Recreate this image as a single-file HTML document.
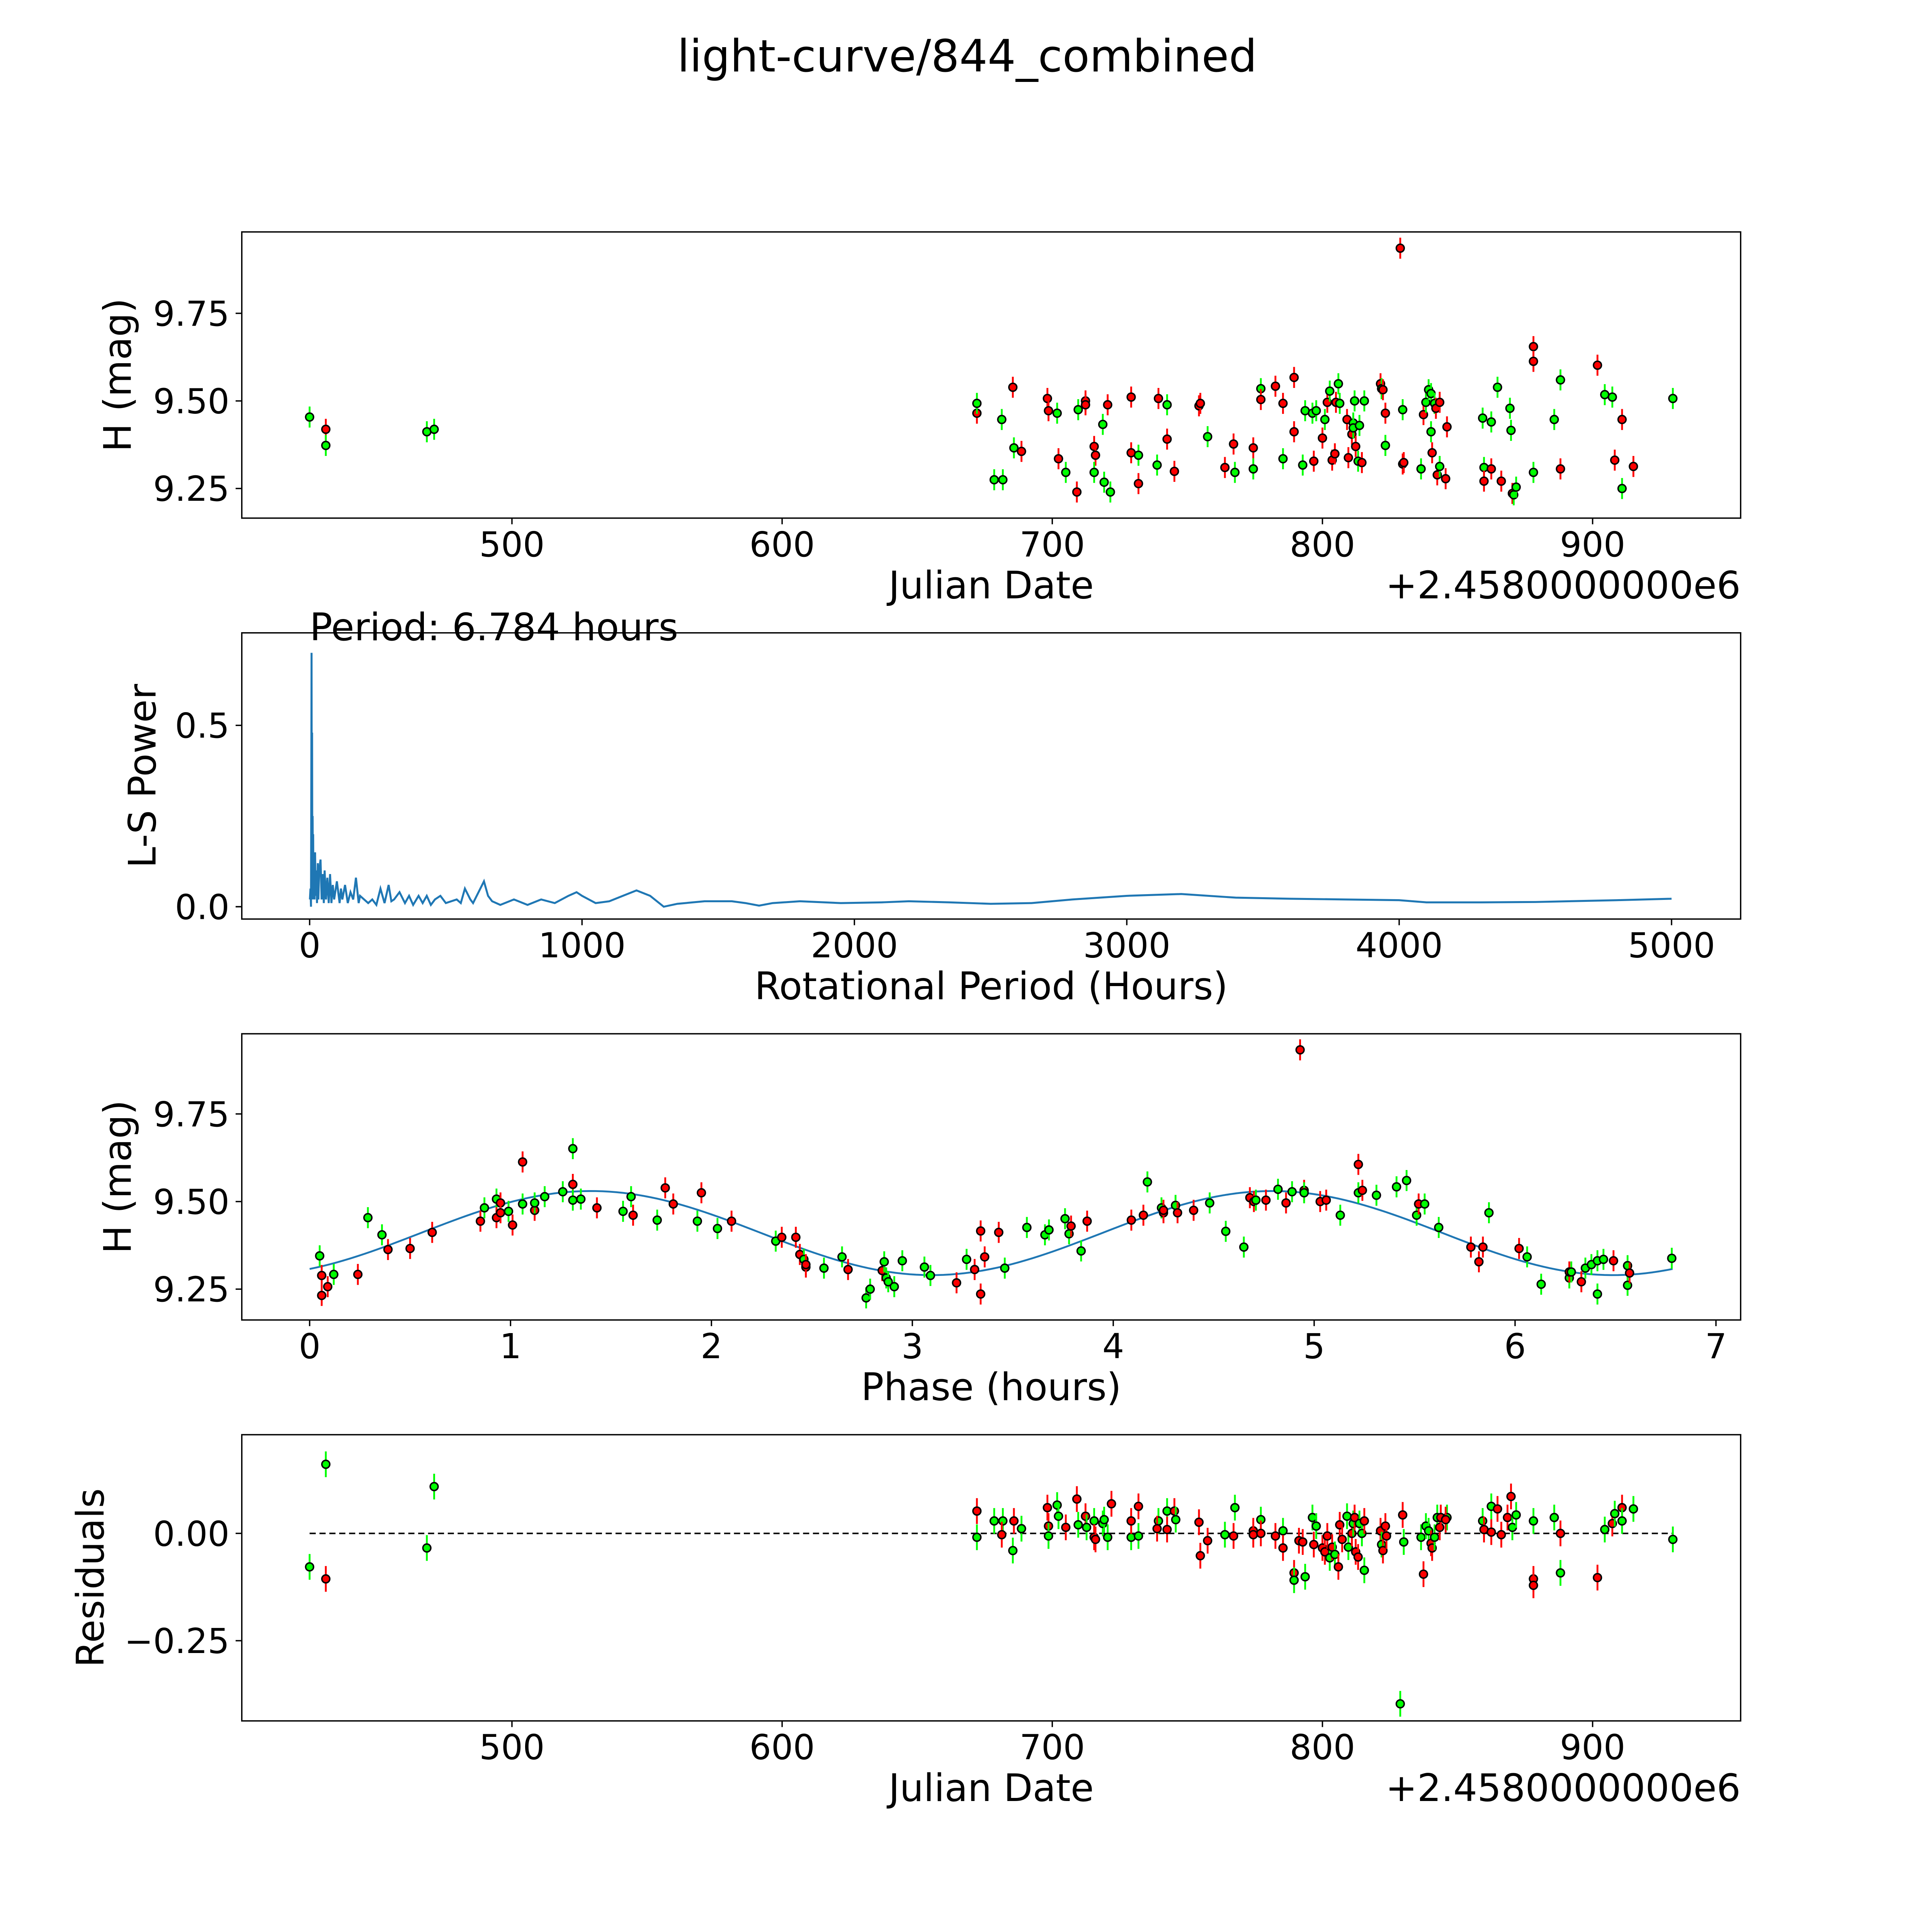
<!DOCTYPE html>
<html><head><meta charset="utf-8"><style>
html,body{margin:0;padding:0;background:#fff;overflow:hidden}
svg{display:block}
text{font-family:"DejaVu Sans","Liberation Sans",sans-serif;fill:#000}
</style></head><body>
<svg id="fig" width="5006" height="5006" viewBox="0 0 1568 1568" xmlns="http://www.w3.org/2000/svg">
<rect width="1568" height="1568" fill="#fff"/>
<text x="784" y="58" font-size="36" text-anchor="middle">light-curve/844_combined</text>
</svg>
<script>
// ---- data: time series (Julian date offset, H mag, color 'g'/'r') ----
const lcDates = [425.1,431.1,431.1,468.5,471.2,672.1,672.1,678.5,681.7,681.3,685.4,685.8,688.6,698.2,698.6,701.8,702.3,705.0,709.1,709.6,712.3,712.3,715.5,716.0,715.5,718.7,719.2,720.5,721.5,729.2,729.2,731.9,731.9,739.3,738.8,742.5,742.5,745.2,754.3,754.8,757.5,763.9,767.1,767.6,774.4,774.4,777.2,777.2,782.6,785.4,785.4,789.5,789.5,792.7,793.6,796.3,796.8,797.7,800.0,800.9,801.8,802.7,803.6,804.6,805.9,805.0,806.4,809.1,809.6,810.9,811.4,811.4,811.9,812.3,813.2,813.7,814.6,815.5,821.5,821.9,822.4,823.3,823.3,828.8,829.7,829.7,830.1,836.5,837.4,838.3,839.3,840.2,840.2,840.6,841.5,842.0,842.5,843.4,843.4,846.1,845.6,859.3,859.8,859.8,862.5,862.5,864.8,866.2,869.4,869.8,870.3,870.8,871.7,878.1,878.1,878.1,885.8,888.1,888.1,901.8,904.5,907.3,908.2,910.9,910.9,915.1,929.7];
const lcMags = [9.454,9.419,9.373,9.412,9.419,9.465,9.493,9.275,9.275,9.447,9.539,9.366,9.356,9.507,9.472,9.465,9.335,9.296,9.240,9.475,9.500,9.489,9.370,9.345,9.296,9.433,9.268,9.489,9.240,9.511,9.352,9.345,9.264,9.507,9.317,9.489,9.391,9.299,9.486,9.493,9.398,9.310,9.377,9.296,9.366,9.306,9.535,9.504,9.542,9.493,9.335,9.567,9.412,9.317,9.472,9.465,9.328,9.472,9.394,9.447,9.496,9.528,9.331,9.349,9.549,9.496,9.493,9.447,9.338,9.405,9.437,9.423,9.500,9.370,9.328,9.430,9.324,9.500,9.549,9.535,9.532,9.373,9.465,9.936,9.320,9.475,9.324,9.306,9.461,9.496,9.532,9.521,9.412,9.352,9.493,9.479,9.289,9.313,9.496,9.426,9.278,9.451,9.310,9.271,9.440,9.306,9.539,9.271,9.479,9.416,9.236,9.232,9.254,9.655,9.613,9.296,9.447,9.560,9.306,9.602,9.518,9.511,9.331,9.447,9.250,9.313,9.507];
const lcColors = "grggg rggggrgrrrgrgrgrrrrgggrgrrgrrggrrrrgrrgrggrrrgrrgggrgrgrgrrgrgrrrgggrggrgrgrgrrrgrgrggggrgrrgrrrggrgrgrggrggrrgggrrggrrgrgrgg".replace(/ /g,'').split('');
// ---- data: periodogram ----
const lsPeriod = [1,3,5,6,7,8,9,10,11,12,13,14,16,18,20,22,25,27,30,32,35,40,44,48,52,55,60,65,70,75,80,85,90,100,110,115,120,130,140,150,160,170,180,185,200,215,230,245,260,275,290,300,310,330,350,365,380,400,415,430,445,460,480,500,520,540,555,570,590,600,620,640,655,670,700,750,800,850,900,950,980,1000,1050,1100,1150,1200,1250,1300,1350,1450,1550,1600,1650,1700,1800,1950,2100,2200,2350,2500,2650,2800,3000,3200,3400,3600,3800,4000,4100,4300,4500,4800,5000];
const lsPower = [0.02,0.05,0.0,0.3,0.7,0.1,0.48,0.02,0.25,0.03,0.2,0.02,0.13,0.02,0.15,0.03,0.1,0.01,0.12,0.02,0.1,0.13,0.02,0.09,0.01,0.1,0.02,0.08,0.01,0.09,0.01,0.06,0.02,0.07,0.01,0.05,0.02,0.06,0.01,0.04,0.02,0.08,0.01,0.03,0.02,0.01,0.02,0.005,0.05,0.01,0.06,0.015,0.02,0.04,0.01,0.03,0.005,0.03,0.01,0.03,0.005,0.02,0.03,0.01,0.015,0.02,0.01,0.05,0.02,0.01,0.04,0.07,0.03,0.015,0.005,0.02,0.005,0.02,0.01,0.03,0.04,0.03,0.01,0.015,0.03,0.045,0.03,0.0,0.008,0.015,0.015,0.01,0.003,0.01,0.015,0.01,0.012,0.015,0.012,0.008,0.01,0.02,0.03,0.035,0.025,0.022,0.02,0.018,0.012,0.012,0.013,0.018,0.022];
// ---- data: phase-folded ----
const phPhase = [0.05,0.06,0.06,0.09,0.12,0.24,0.29,0.36,0.39,0.50,0.61,0.85,0.87,0.93,0.93,0.95,0.95,0.99,1.01,1.06,1.06,1.12,1.12,1.17,1.26,1.31,1.31,1.31,1.35,1.43,1.56,1.60,1.61,1.73,1.77,1.81,1.93,1.95,2.03,2.10,2.32,2.35,2.42,2.44,2.46,2.47,2.47,2.56,2.65,2.68,2.77,2.79,2.85,2.86,2.87,2.88,2.91,2.95,3.06,3.09,3.22,3.27,3.31,3.34,3.34,3.36,3.43,3.46,3.57,3.66,3.68,3.76,3.78,3.79,3.84,3.87,4.09,4.15,4.17,4.24,4.25,4.25,4.31,4.32,4.40,4.48,4.56,4.65,4.68,4.70,4.71,4.76,4.82,4.86,4.89,4.93,4.95,4.95,5.03,5.06,5.13,5.22,5.22,5.24,5.31,5.41,5.46,5.51,5.52,5.55,5.62,5.78,5.82,5.84,5.87,6.02,6.06,6.13,6.27,6.27,6.28,6.33,6.35,6.38,6.41,6.41,6.44,6.49,6.56,6.56,6.57,6.78];
const phMags = [9.345,9.289,9.232,9.257,9.292,9.292,9.454,9.405,9.363,9.366,9.412,9.444,9.482,9.507,9.454,9.496,9.468,9.472,9.433,9.613,9.493,9.475,9.496,9.514,9.528,9.651,9.549,9.504,9.507,9.482,9.472,9.514,9.461,9.447,9.539,9.493,9.444,9.525,9.423,9.444,9.387,9.398,9.398,9.349,9.335,9.313,9.320,9.310,9.342,9.306,9.225,9.250,9.303,9.328,9.282,9.271,9.257,9.331,9.313,9.289,9.268,9.335,9.306,9.416,9.236,9.342,9.412,9.310,9.426,9.405,9.419,9.451,9.408,9.430,9.359,9.444,9.447,9.461,9.556,9.482,9.468,9.475,9.489,9.468,9.475,9.496,9.415,9.370,9.511,9.500,9.504,9.504,9.535,9.496,9.528,9.933,9.532,9.525,9.500,9.504,9.461,9.606,9.525,9.532,9.518,9.542,9.560,9.461,9.493,9.493,9.426,9.370,9.328,9.370,9.468,9.366,9.342,9.264,9.282,9.299,9.299,9.271,9.310,9.320,9.236,9.331,9.335,9.331,9.317,9.261,9.296,9.338];
const phColors = "grrrgrggrrrrggrrrgrrgrggggrggrggrgrrgrgrgrrrgrrggrggrgggggggrgrrrrrggggggrgrrrggrrgrrgggrrgrgrgrrgrrgrgrggggrggrrrgrgggrgrgggggrggrgrr".split('');
// ---- data: fit model (mean mag, semi-amplitude, peak phase, period hours) ----
const fitParams = [9.41, 0.12, 1.4, 6.784];
// ---- data: residuals ----
const resDates = [425.1,431.1,431.1,468.5,471.2,672.1,672.1,678.5,681.7,681.3,685.4,685.8,688.6,698.2,698.6,701.8,698.6,702.3,705.0,709.1,709.6,712.3,712.7,715.5,715.5,716.0,718.7,719.2,720.5,721.9,729.2,729.2,731.9,731.9,739.3,738.8,742.5,742.5,745.2,745.7,754.3,754.8,757.5,763.9,767.1,767.6,774.4,774.4,777.2,777.2,782.6,785.4,785.4,789.5,789.5,791.3,793.6,792.7,796.3,796.8,797.7,800.0,800.9,801.8,802.7,803.6,804.6,805.9,806.4,807.3,809.1,809.6,810.9,811.4,811.9,812.3,813.2,813.7,814.6,815.5,815.5,821.5,821.9,822.4,823.3,823.7,828.8,829.7,830.1,836.5,837.4,838.3,839.3,840.2,840.6,841.5,842.5,843.4,843.8,846.1,845.6,859.3,859.8,862.5,862.5,864.8,866.2,868.5,869.8,870.3,871.7,878.1,878.1,878.1,885.8,888.1,888.1,901.8,904.5,907.3,908.2,910.9,910.9,915.1,929.7];
const resVals = [-0.078,-0.106,0.161,-0.034,0.109,0.052,-0.009,0.029,0.029,-0.003,-0.040,0.029,0.011,0.060,0.017,0.066,-0.006,0.040,0.014,0.080,0.020,0.040,0.014,0.029,-0.009,-0.014,0.023,0.032,-0.009,0.069,-0.009,0.029,-0.006,0.063,0.029,0.011,0.052,0.009,0.052,0.032,0.026,-0.052,-0.017,-0.003,-0.006,0.060,0.006,-0.003,0.032,0.0,-0.006,0.006,-0.034,-0.092,-0.109,-0.017,-0.101,-0.020,0.037,-0.026,0.017,-0.034,-0.043,-0.006,-0.057,-0.032,-0.049,-0.078,0.020,-0.014,0.040,-0.032,0.0,0.023,0.037,-0.043,-0.055,0.023,0.0,0.029,-0.086,0.006,-0.026,-0.040,0.017,-0.006,-0.397,0.043,-0.020,-0.009,-0.095,0.017,0.006,-0.023,-0.034,-0.009,0.037,0.014,0.037,0.037,0.032,0.029,0.009,0.063,0.003,0.057,-0.003,0.037,0.086,0.014,0.043,0.029,-0.106,-0.121,0.037,0.0,-0.092,-0.103,0.009,0.023,0.046,0.060,0.029,0.057,-0.014];
const resColors = "grggg rgggrgrgrrgggrrgrggrrgggrgrgrgrgrrgrrrgrgrrgrrgrrgrgrgrgrrrgrgrrrggrgrrrggrgrgrrrgrggrggrrggrrgrgrgrrrrrgggrrgrgrgrgrgg".replace(/ /g,'').split('');
const magErr = 0.03;
const tickJD = [500,600,700,800,900];
const tickMag = [9.25,9.50,9.75];
const tickMagLbl = ["9.25","9.50","9.75"];
const tickLSx = [0,1000,2000,3000,4000,5000];
const tickLSy = [0.0,0.5];
const tickLSyLbl = ["0.0","0.5"];
const tickPh = [0,1,2,3,4,5,6,7];
const tickRes = [0.0,-0.25];
const tickResLbl = ["0.00","\u22120.25"];

const NS="http://www.w3.org/2000/svg";
const svg=document.getElementById('fig');
function mk(tag,attrs,parent){const e=document.createElementNS(NS,tag);for(const k in attrs)e.setAttribute(k,attrs[k]);(parent||svg).appendChild(e);return e;}
function lin(d0,d1,p0,p1){return v=>p0+(v-d0)*(p1-p0)/(d1-d0);}
const COL={g:'#00ff00',r:'#ff0000'};
const L=196,R=1411;
const TF=27.8, LF=30.6;

function axesFrame(name,top,bot,sx,sy,xt,xtl,yt,ytl,xlabel,ylabel,ylabelX,offset){
  const g=mk('g',{});
  
  
  const fr=mk('rect',{x:L,y:top,width:R-L,height:bot-top,fill:'none',stroke:'#000','stroke-width':1.1},g);
  
  
  xt.forEach((v,i)=>{const x=sx(v);
    mk('line',{x1:x,x2:x,y1:bot,y2:bot+5,stroke:'#000','stroke-width':1.1},g);
    const t=mk('text',{x:x,y:bot+31,'font-size':TF,'text-anchor':'middle'},g);t.textContent=xtl[i];
    
    });
  yt.forEach((v,i)=>{const y=sy(v);
    mk('line',{x1:L-5,x2:L,y1:y,y2:y,stroke:'#000','stroke-width':1.1},g);
    const t=mk('text',{x:L-10,y:y+10,'font-size':TF,'text-anchor':'end'},g);t.textContent=ytl[i];
    
    });
  const xl=mk('text',{x:(L+R)/2,y:bot+65,'font-size':LF,'text-anchor':'middle'},g);xl.textContent=xlabel;
  
  
  const cy=(top+bot)/2;
  const yl=mk('text',{x:ylabelX,y:cy,'font-size':LF,'text-anchor':'middle',transform:`rotate(-90 ${ylabelX} ${cy})`},g);yl.textContent=ylabel;
  
  
  if(offset){const o=mk('text',{x:R,y:bot+65,'font-size':LF,'text-anchor':'end'},g);o.textContent=offset;
    
    }
  return g;
}
function scatter(g,xs,ys,cs,sx,sy,errPx){
  xs.forEach((v,i)=>{const x=sx(v),y=sy(ys[i]);const c=COL[cs[i]]||COL.g;
    const eb=mk('line',{x1:x,x2:x,y1:y-errPx,y2:y+errPx,stroke:c,'stroke-width':1.5},g);
    
    
    const p=mk('circle',{cx:x,cy:y,r:3.2,fill:c,stroke:'#000','stroke-width':1.2},g);
    
    });
}
function clipFor(id,top,bot){const cp=mk('clipPath',{id:id});mk('rect',{x:L,y:top,width:R-L,height:bot-top},cp);}

// Panel 1
{const top=188,bot=420;const sx=lin(500,900,415,1291),sy=lin(9.25,9.75,396,254);
 const g=axesFrame('light-curve-panel',top,bot,sx,sy,tickJD,tickJD.map(String),tickMag,tickMagLbl,'Julian Date','H (mag)',106,'+2.4580000000e6');
 clipFor('c1',top,bot);const pg=mk('g',{'clip-path':'url(#c1)'},g);
 scatter(pg,lcDates,lcMags,lcColors,sx,sy,Math.abs(sy(9.5+magErr)-sy(9.5)));}
// Panel 2
{const top=513,bot=745;const sx=lin(0,5000,251,1355),sy=lin(0,0.5,735,588);
 const g=axesFrame('periodogram-panel',top,bot,sx,sy,tickLSx,tickLSx.map(String),tickLSy,tickLSyLbl,'Rotational Period (Hours)','L-S Power',126,null);
 const d=lsPeriod.map((p,i)=>(i?'L':'M')+sx(p).toFixed(2)+','+sy(lsPower[i]).toFixed(2)).join(' ');
 const pl=mk('path',{d:d,fill:'none',stroke:'#1f77b4','stroke-width':1.6},g);
 
 
 const t=mk('text',{x:251,y:519,'font-size':LF},svg);t.textContent='Period: 6.784 hours';
 
 }
// Panel 3
{const top=838,bot=1070;const sx=lin(0,7,251,1391),sy=lin(9.25,9.75,1045,903);
 const g=axesFrame('phase-panel',top,bot,sx,sy,tickPh,tickPh.map(String),tickMag,tickMagLbl,'Phase (hours)','H (mag)',106,null);
 const [mu,amp,pk,per]=fitParams;const pts=[];
 for(let i=0;i<=200;i++){const p=per*i/200;const m=mu+amp*Math.cos(2*Math.PI*2*(p-pk)/per);pts.push((i?'L':'M')+sx(p).toFixed(2)+','+sy(m).toFixed(2));}
 const fl=mk('path',{d:pts.join(' '),fill:'none',stroke:'#1f77b4','stroke-width':1.5},g);
 
 
 clipFor('c3',top,bot);const pg=mk('g',{'clip-path':'url(#c3)'},g);
 scatter(pg,phPhase,phMags,phColors,sx,sy,Math.abs(sy(9.5+magErr)-sy(9.5)));}
// Panel 4
{const top=1163,bot=1395;const sx=lin(500,900,415,1291),sy=lin(0,-0.25,1243,1330);
 const g=axesFrame('residuals-panel',top,bot,sx,sy,tickJD,tickJD.map(String),tickRes,tickResLbl,'Julian Date','Residuals',84,'+2.4580000000e6');
 const zl=mk('line',{x1:sx(Math.min(...resDates)),x2:sx(Math.max(...resDates)),y1:sy(0),y2:sy(0),stroke:'#000','stroke-width':1.2,'stroke-dasharray':'5,3'},g);
 
 
 clipFor('c4',top,bot);const pg=mk('g',{'clip-path':'url(#c4)'},g);
 scatter(pg,resDates,resVals,resColors,sx,sy,Math.abs(sy(magErr)-sy(0)));}
</script>
</body></html>
